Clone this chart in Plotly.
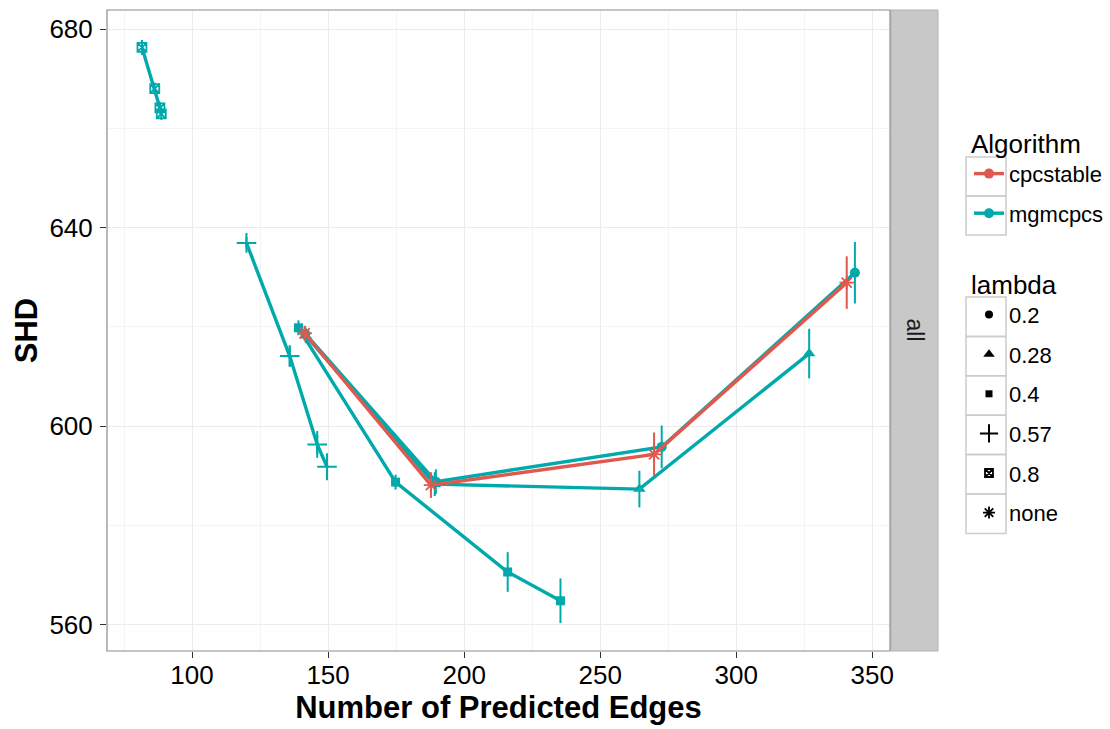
import plotly.graph_objects as go

# ---------------- data ----------------
lambda_levels = ["0.2", "0.28", "0.4", "0.57", "0.8", "none"]
algorithms = ["cpcstable", "mgmcpcs"]

mgm_l020_edges = [141.6, 189.6, 272.6, 343.6]
mgm_l020_shd = [618.6, 588.8, 595.8, 630.9]
mgm_l020_err = [1.5, 2.5, 4.3, 6.2]

mgm_l028_edges = [141.8, 189.2, 264.4, 326.8]
mgm_l028_shd = [618.2, 588.3, 587.3, 614.6]
mgm_l028_err = [1.5, 2.4, 3.7, 5.0]

mgm_l040_edges = [139.1, 174.8, 216.0, 235.4]
mgm_l040_shd = [619.8, 588.7, 570.6, 564.8]
mgm_l040_err = [1.5, 1.5, 4.0, 4.5]

mgm_l057_edges = [120.0, 135.9, 146.0, 149.6]
mgm_l057_shd = [636.9, 614.1, 596.3, 591.8]
mgm_l057_err = [1.2, 2.2, 2.7, 2.7]

mgm_l080_edges = [81.6, 86.3, 88.2, 88.7]
mgm_l080_shd = [676.3, 668.0, 664.1, 662.9]
mgm_l080_err = [1.5, 1.2, 1.2, 1.2]

pc_none_edges = [141.4, 187.8, 269.8, 340.6]
pc_none_shd = [618.7, 588.1, 594.3, 628.9]
pc_none_err = [1.5, 2.6, 4.4, 5.3]

x_ticks = [100, 150, 200, 250, 300, 350]
y_ticks = [560, 600, 640, 680]

# ---------------- styles ----------------
COL = {"cpcstable": "#E0594F", "mgmcpcs": "#00A9AB"}
SYMBOL = {
    "0.2": ("circle", 10, 0),
    "0.28": ("triangle-up", 11, 0),
    "0.4": ("square", 9, 0),
    "0.57": ("cross-thin-open", 14, 2),
    "0.8": ("square-x-open", 9, 1.8),
    "none": ("asterisk-open", 12, 1.8),
}
LEGEND_SIZE = {"0.2": 8, "0.28": 10, "0.4": 7, "0.57": 13, "0.8": 8, "none": 10}
FONT = "Liberation Sans, Arial, sans-serif"

W, H = 1110, 729
ML, MR, MT, MB = 107, 220, 10, 78
PW, PH = W - ML - MR, H - MT - MB


def px(x):
    return (x - ML) / PW


def py(y):
    return 1 - (y - MT) / PH


fig = go.Figure()

series = [
    ("mgmcpcs", "0.2", mgm_l020_edges, mgm_l020_shd, mgm_l020_err),
    ("mgmcpcs", "0.28", mgm_l028_edges, mgm_l028_shd, mgm_l028_err),
    ("mgmcpcs", "0.4", mgm_l040_edges, mgm_l040_shd, mgm_l040_err),
    ("mgmcpcs", "0.57", mgm_l057_edges, mgm_l057_shd, mgm_l057_err),
    ("mgmcpcs", "0.8", mgm_l080_edges, mgm_l080_shd, mgm_l080_err),
    ("cpcstable", "none", pc_none_edges, pc_none_shd, pc_none_err),
]

for alg, lam, xs, ys, es in series:
    sym, size, lw = SYMBOL[lam]
    c = COL[alg]
    fig.add_trace(go.Scatter(
        x=xs, y=ys, mode="lines+markers",
        line=dict(color=c, width=3.4),
        marker=dict(symbol=sym, size=size, color=c, line=dict(color=c, width=lw)),
        error_y=dict(type="data", array=es, visible=True, width=0,
                     thickness=2, color=c),
        showlegend=False, hoverinfo="x+y",
    ))

# legend-only entries
for alg in algorithms:
    fig.add_trace(go.Scatter(
        x=[None], y=[None], mode="lines+markers", name=alg,
        line=dict(color=COL[alg], width=3.4),
        marker=dict(symbol="circle", size=10, color=COL[alg]),
        legend="legend", legendgroup=alg,
    ))
for lam in lambda_levels:
    sym, size, lw = SYMBOL[lam]
    fig.add_trace(go.Scatter(
        x=[None], y=[None], mode="markers", name=lam,
        marker=dict(symbol=sym, size=LEGEND_SIZE[lam], color="black",
                    line=dict(color="black", width=lw)),
        legend="legend2", legendgroup="l" + lam,
    ))

shapes = []
# facet strip
shapes.append(dict(type="rect", xref="paper", yref="paper",
                   x0=px(891), x1=px(938), y0=py(651), y1=py(10),
                   fillcolor="#C8C8C8", line=dict(color="#B0B0B0", width=1),
                   layer="below"))
# panel border
shapes.append(dict(type="rect", xref="paper", yref="paper",
                   x0=0, x1=1, y0=0, y1=1,
                   line=dict(color="#8C8C8C", width=1.2), layer="above"))
# legend key boxes
for top in [157, 196]:
    shapes.append(dict(type="rect", xref="paper", yref="paper",
                       x0=px(966), x1=px(1006), y0=py(top + 39), y1=py(top),
                       line=dict(color="#CCCCCC", width=1.5),
                       fillcolor="rgba(0,0,0,0)"))
for i in range(6):
    top = 297 + 39.4 * i
    shapes.append(dict(type="rect", xref="paper", yref="paper",
                       x0=px(966), x1=px(1006), y0=py(top + 39.4), y1=py(top),
                       line=dict(color="#CCCCCC", width=1.5),
                       fillcolor="rgba(0,0,0,0)"))

annotations = [dict(text="all", xref="paper", yref="paper",
                    x=px(914.5), y=py(330), textangle=90, showarrow=False,
                    font=dict(size=23, color="#1A1A1A", family=FONT),
                    xanchor="center", yanchor="middle")]

axis_common = dict(
    showline=False, ticks="outside", ticklen=6, tickwidth=1.3,
    tickcolor="#333333", tickfont=dict(size=26, color="black", family=FONT),
    gridcolor="#EBEBEB", gridwidth=1.2, zeroline=False, mirror=False,
)

fig.update_layout(
    width=W, height=H,
    margin=dict(l=ML, r=MR, t=MT, b=MB, autoexpand=False),
    paper_bgcolor="white", plot_bgcolor="white",
    font=dict(family=FONT, color="black"),
    xaxis=dict(range=[68.75, 356.5], tickvals=x_ticks, ticklabelstandoff=-5,
               title=dict(text="<b>Number of Predicted Edges</b>",
                          font=dict(size=31, family=FONT), standoff=7),
               minor=dict(dtick=25, tick0=75, showgrid=True,
                          gridcolor="#F4F4F4", gridwidth=1, ticks=""),
               **axis_common),
    yaxis=dict(range=[554.68, 683.83], tickvals=y_ticks, ticklabelstandoff=2,
               title=dict(text="<b>SHD</b>",
                          font=dict(size=31, family=FONT), standoff=2),
               minor=dict(dtick=20, tick0=580, showgrid=True,
                          gridcolor="#F4F4F4", gridwidth=1, ticks=""),
               **axis_common),
    legend=dict(title=dict(text="Algorithm", font=dict(size=26, family=FONT)),
                font=dict(size=22, family=FONT),
                xref="container", yref="container",
                x=969 / W, y=1 - 119 / H, xanchor="left", yanchor="top",
                tracegroupgap=8, bgcolor="rgba(0,0,0,0)"),
    legend2=dict(title=dict(text="lambda", font=dict(size=26, family=FONT)),
                 font=dict(size=22, family=FONT),
                 xref="container", yref="container",
                 x=969 / W, y=1 - 260 / H, xanchor="left", yanchor="top",
                 tracegroupgap=8, bgcolor="rgba(0,0,0,0)"),
    shapes=shapes, annotations=annotations,
)

fig.write_html("out.html", config={"displayModeBar": False},
               post_script="document.body.style.margin='0';")
